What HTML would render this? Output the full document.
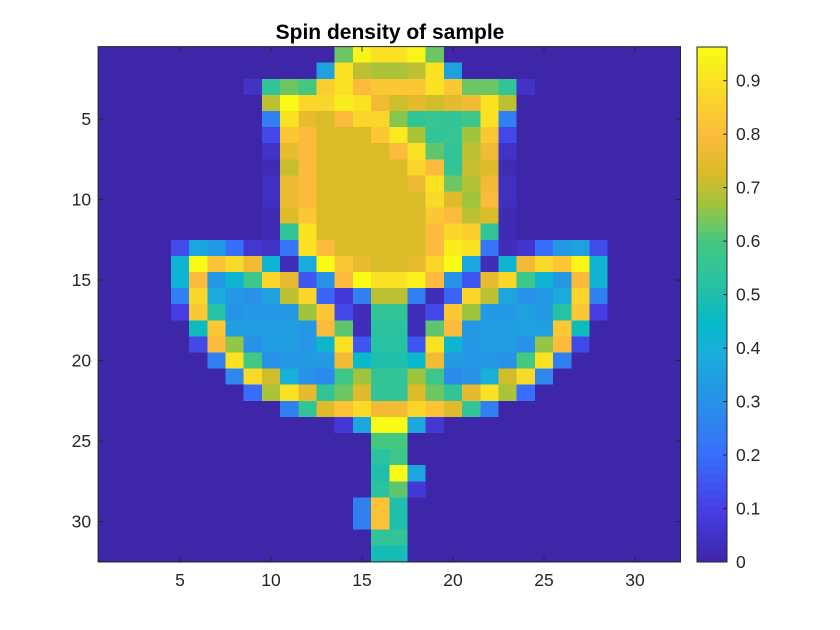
<!DOCTYPE html>
<html><head><meta charset="utf-8"><style>
html,body{margin:0;padding:0;background:#fff;}
svg{display:block;font-family:"Liberation Sans",Arial,sans-serif;}
</style></head><body>
<svg id="chart" width="840" height="630" viewBox="0 0 840 630" xmlns="http://www.w3.org/2000/svg">
<rect width="840" height="630" fill="#fff"/>
<text x="390" y="39" text-anchor="middle" font-size="21" font-weight="bold" fill="#000">Spin density of sample</text>
<g id="cells" shape-rendering="crispEdges"></g>
<g id="axes"></g>
<g id="cbar"></g>
</svg>
<script>
const nRows = 32, nCols = 32;
const rowStarts = [14,13,9,10,10,10,10,10,10,10,10,10,5,5,5,5,5,6,6,7,8,9,11,14,16,16,16,16,15,15,16,16];
const rowValues = [
[0.63,0.95,0.9,0.9,0.95,0.63],
[0.35,0.9,0.7,0.68,0.68,0.7,0.9,0.35],
[0.05,0.55,0.63,0.6,0.85,0.9,0.8,0.83,0.83,0.83,0.9,0.83,0.63,0.63,0.55,0.05],
[0.7,0.96,0.87,0.87,0.93,0.9,0.78,0.72,0.75,0.72,0.75,0.78,0.9,0.7],
[0.25,0.9,0.76,0.73,0.8,0.87,0.87,0.65,0.55,0.56,0.55,0.58,0.9,0.25],
[0.12,0.83,0.8,0.73,0.73,0.73,0.83,0.92,0.68,0.55,0.56,0.67,0.83,0.12],
[0.05,0.76,0.8,0.73,0.73,0.73,0.73,0.8,0.9,0.62,0.55,0.7,0.78,0.05],
[0.02,0.71,0.8,0.73,0.73,0.73,0.73,0.73,0.87,0.8,0.55,0.71,0.74,0.02],
[0.04,0.77,0.8,0.73,0.73,0.73,0.73,0.73,0.77,0.9,0.63,0.69,0.78,0.04],
[0.04,0.77,0.8,0.73,0.73,0.73,0.73,0.73,0.73,0.88,0.74,0.67,0.8,0.04],
[0.02,0.74,0.83,0.73,0.73,0.73,0.73,0.73,0.73,0.83,0.8,0.7,0.73,0.02],
[0.02,0.55,0.9,0.73,0.73,0.73,0.73,0.73,0.73,0.8,0.87,0.85,0.55,0.02],
[0.13,0.37,0.33,0.2,0.07,0.05,0.22,0.9,0.8,0.73,0.73,0.73,0.73,0.73,0.8,0.93,0.9,0.22,0.03,0.06,0.2,0.33,0.35,0.13],
[0.42,0.96,0.82,0.88,0.78,0.42,0.03,0.38,0.96,0.83,0.76,0.73,0.73,0.76,0.87,0.96,0.37,0.03,0.42,0.78,0.88,0.83,0.95,0.42],
[0.42,0.8,0.32,0.42,0.58,0.87,0.76,0.15,0.3,0.8,0.96,0.9,0.9,0.94,0.8,0.3,0.15,0.76,0.87,0.58,0.42,0.32,0.8,0.42],
[0.25,0.87,0.38,0.32,0.3,0.35,0.7,0.87,0.18,0.08,0.25,0.7,0.7,0.25,0.03,0.18,0.87,0.7,0.37,0.3,0.32,0.38,0.87,0.25],
[0.1,0.83,0.52,0.31,0.33,0.32,0.32,0.67,0.83,0.12,0.03,0.55,0.55,0.03,0.12,0.83,0.67,0.33,0.33,0.35,0.33,0.52,0.83,0.1],
[0.47,0.83,0.34,0.34,0.34,0.34,0.32,0.8,0.62,0.03,0.53,0.53,0.03,0.62,0.8,0.32,0.34,0.34,0.35,0.35,0.83,0.47],
[0.12,0.8,0.66,0.3,0.34,0.34,0.32,0.43,0.9,0.15,0.52,0.52,0.15,0.9,0.43,0.32,0.34,0.34,0.3,0.66,0.8,0.12],
[0.25,0.9,0.6,0.3,0.32,0.33,0.33,0.78,0.44,0.5,0.5,0.44,0.78,0.33,0.33,0.32,0.3,0.6,0.9,0.25],
[0.27,0.88,0.72,0.4,0.3,0.28,0.58,0.67,0.55,0.55,0.67,0.58,0.28,0.3,0.4,0.72,0.88,0.27],
[0.2,0.68,0.9,0.75,0.55,0.63,0.74,0.55,0.55,0.74,0.63,0.55,0.75,0.9,0.68,0.2],
[0.25,0.55,0.74,0.82,0.88,0.78,0.78,0.87,0.82,0.74,0.55,0.25],
[0.08,0.37,0.96,0.96,0.37,0.07],
[0.6,0.6],
[0.53,0.58],
[0.5,0.96,0.37],
[0.53,0.62,0.08],
[0.25,0.82,0.5],
[0.25,0.82,0.5],
[0.55,0.55],
[0.48,0.48]
];
const backgroundValue = 0.0;
const tickValues = [5,10,15,20,25,30];
const cbarTicks = [0,0.1,0.2,0.3,0.4,0.5,0.6,0.7,0.8,0.9];
const cmin = 0, cmax = 0.963;

const NS = "http://www.w3.org/2000/svg";
const L = 98.1, R = 680.5, T = 46.6, B = 561.8;
const xs = v => L + (v - 0.5) * (R - L) / nCols;
const ys = v => T + (v - 0.5) * (B - T) / nRows;
const stops = [[0,[62,38,168]],[0.1,[70,62,228]],[0.2,[56,110,252]],[0.3,[40,145,232]],[0.4,[22,176,216]],[0.45,[4,186,200]],[0.5,[32,191,172]],[0.6,[68,200,128]],[0.67,[160,196,60]],[0.73,[218,187,40]],[0.8,[252,187,60]],[0.88,[250,218,40]],[0.963,[249,251,20]]];
function color(v){
  v = Math.max(cmin, Math.min(cmax, v));
  for (let i=1;i<stops.length;i++){
    if (v <= stops[i][0]){
      const [a,ca]=stops[i-1],[b,cb]=stops[i],t=(v-a)/(b-a);
      return 'rgb('+ca.map((c,k)=>Math.round(c+(cb[k]-c)*t)).join(',')+')';
    }
  }
  return 'rgb(249,251,20)';
}
function mk(tag, attrs, parent){
  const e=document.createElementNS(NS,tag);
  for(const k in attrs) e.setAttribute(k,attrs[k]);
  parent.appendChild(e); return e;
}
const grid = [];
for (let r=0;r<nRows;r++){ grid.push(new Array(nCols).fill(backgroundValue)); }
rowValues.forEach((vals,r)=>{ vals.forEach((v,i)=>{ grid[r][rowStarts[r]-1+i]=v; }); });
const cells = document.getElementById('cells');
for (let r=0;r<nRows;r++) for (let c=0;c<nCols;c++){
  const x0=xs(c+0.5), x1=xs(c+1.5), y0=ys(r+0.5), y1=ys(r+1.5);
  const e=mk('rect',{x:x0.toFixed(2),y:y0.toFixed(2),width:(x1-x0+0.6).toFixed(2),height:(y1-y0+0.6).toFixed(2),fill:color(grid[r][c])},cells);
  
  
}
const ax = document.getElementById('axes');
const frame = mk('rect',{x:L,y:T,width:R-L,height:B-T,fill:'none',stroke:'#262626','stroke-width':1},ax);


tickValues.forEach(t=>{
  const x=xs(t), y=ys(t);
  mk('line',{x1:x,y1:B,x2:x,y2:B-5,stroke:'#262626'},ax);
  mk('line',{x1:x,y1:T,x2:x,y2:T+5,stroke:'#262626'},ax);
  mk('line',{x1:L,y1:y,x2:L+5,y2:y,stroke:'#262626'},ax);
  mk('line',{x1:R,y1:y,x2:R-5,y2:y,stroke:'#262626'},ax);
  const xl=mk('text',{x:x,y:B+24,'text-anchor':'middle','font-size':17.5,fill:'#262626'},ax);
  xl.textContent=t;
  
  
  const yl=mk('text',{x:L-7,y:y+6,'text-anchor':'end','font-size':17.5,fill:'#262626'},ax);
  yl.textContent=t;
  
  
});
const cb = document.getElementById('cbar');
const CL=697, CR=727, CT=47, CB=562;
const cy = v => CB - (v-cmin)/(cmax-cmin)*(CB-CT);
for (let i=0;i<64;i++){
  const v0=cmin+(cmax-cmin)*i/64, v1=cmin+(cmax-cmin)*(i+1)/64;
  const e=mk('rect',{x:CL,y:cy(v1).toFixed(2),width:CR-CL,height:(cy(v0)-cy(v1)+0.5).toFixed(2),fill:color((v0+v1)/2),'shape-rendering':'crispEdges'},cb);
  
  
}
mk('rect',{x:CL,y:CT,width:CR-CL,height:CB-CT,fill:'none',stroke:'#262626'},cb);
cbarTicks.forEach(t=>{
  const y=cy(t);
  mk('line',{x1:CR,y1:y,x2:CR-4,y2:y,stroke:'#262626'},cb);
  const l=mk('text',{x:CR+9,y:y+6,'font-size':17.5,fill:'#262626'},cb);
  l.textContent=t;
  
  
});
</script>
</body></html>
